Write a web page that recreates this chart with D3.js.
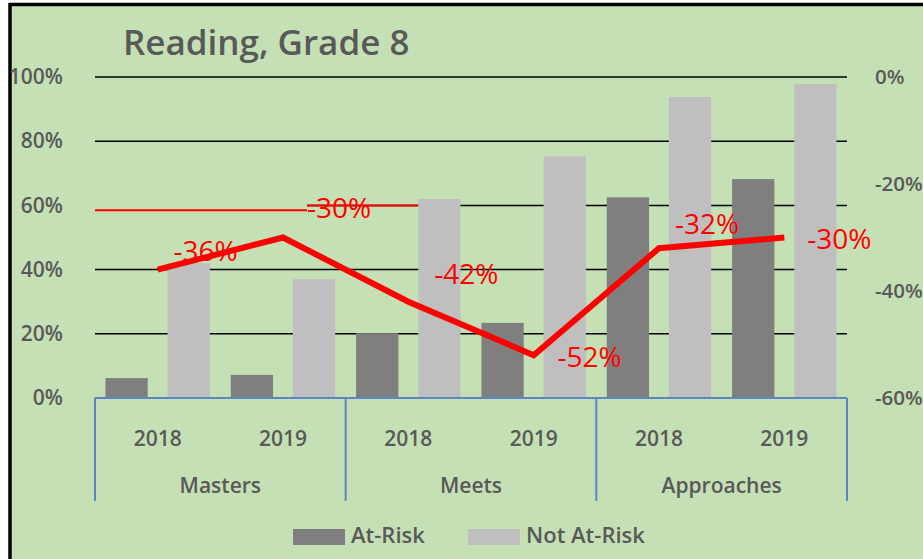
<!DOCTYPE html>
<html>
<head>
<meta charset="utf-8">
<script src="https://cdn.jsdelivr.net/npm/d3@7"></script>
<style>
  html, body { margin: 0; padding: 0; background: #fff; }
  svg { display: block; font-family: "Open Sans", "Noto Sans", sans-serif; }
</style>
</head>
<body>
<div id="chart"></div>
<script>
const groups = ["Masters", "Meets", "Approaches"];
const years = ["2018", "2019"];
const series = ["At-Risk", "Not At-Risk"];
const atRisk = [0.062, 0.072, 0.202, 0.234, 0.625, 0.682];
const notAtRisk = [0.42, 0.37, 0.62, 0.753, 0.938, 0.978];
const gap = [-0.36, -0.30, -0.42, -0.52, -0.32, -0.30];
const leftTicks = [0, 0.2, 0.4, 0.6, 0.8, 1];
const rightTicks = [0, -0.2, -0.4, -0.6];

// label nudges, like the hand-placed labels in the original
const labelNudge = [[48, -9], [56, -20], [58, -18], [56, 12], [48, -14], [55, 11]];

const W = 923, H = 559;
const plot = { left: 95, right: 847, top: 77, bottom: 398 };
const pct = d3.formatLocale({ decimal: ".", thousands: ",", grouping: [3], currency: ["", ""], minus: "-" }).format(".0%");

const rows = [];
groups.forEach((g, gi) => years.forEach((yr, yi) => {
  const i = gi * years.length + yi;
  rows.push({ group: g, year: yr, values: [atRisk[i], notAtRisk[i]], gap: gap[i] });
}));

const svg = d3.select("#chart").append("svg").attr("width", W).attr("height", H);

svg.append("rect")
  .attr("x", 10).attr("y", 4.5).attr("width", W + 10).attr("height", H + 10)
  .attr("fill", "#c5e0b4").attr("stroke", "#000").attr("stroke-width", 3.5);

svg.append("text")
  .attr("x", 123).attr("y", 55)
  .attr("font-size", 35).attr("font-weight", 600).attr("fill", "#595959")
  .text("Reading, Grade 8");

const x0 = d3.scaleBand().domain(groups).range([plot.left, plot.right]);
const x1 = d3.scaleBand().domain(years).range([0, x0.bandwidth()]);
const xs = d3.scaleBand().domain(series).range([0, x1.bandwidth()]).paddingInner(0.32).paddingOuter(0.168);
const yL = d3.scaleLinear().domain([0, 1]).range([plot.bottom, plot.top]);
const yR = d3.scaleLinear().domain([-0.6, 0]).range([plot.bottom, plot.top]);
const cx = d => x0(d.group) + x1(d.year) + x1.bandwidth() / 2;

// the -30% label's leader line runs over the 60% gridline on the left
const leaderEnd = x0("Masters") + x1("2019") + x1.bandwidth() / 2 + labelNudge[1][0] - 32;
const leaderStop = x0("Meets") + x1("2018") + xs("Not At-Risk");

// gridlines
svg.append("g").selectAll("line")
  .data(leftTicks.filter(t => t > 0))
  .join("line")
  .attr("x1", t => t === 0.6 ? leaderEnd : plot.left)
  .attr("x2", plot.right)
  .attr("y1", t => yL(t)).attr("y2", t => yL(t))
  .attr("stroke", "#000").attr("stroke-width", 1.5);

svg.append("g").attr("stroke", "#ff0000").attr("stroke-width", 2)
  .call(g => g.append("line").attr("x1", plot.left).attr("x2", leaderEnd)
    .attr("y1", yL(0.585)).attr("y2", yL(0.585)))
  .call(g => g.append("line").attr("x1", leaderEnd).attr("x2", leaderStop)
    .attr("y1", yL(0.6)).attr("y2", yL(0.6)));

// bars
const colors = d3.scaleOrdinal().domain(series).range(["#7f7f7f", "#bfbfbf"]);
svg.append("g").selectAll("g")
  .data(rows)
  .join("g")
  .attr("transform", d => `translate(${x0(d.group) + x1(d.year)},0)`)
  .selectAll("rect")
  .data(d => d.values.map((v, k) => ({ s: series[k], v })))
  .join("rect")
  .attr("x", d => xs(d.s))
  .attr("width", xs.bandwidth())
  .attr("y", d => yL(d.v))
  .attr("height", d => yL(0) - yL(d.v))
  .attr("fill", d => colors(d.s));

// axes
const tickStyle = size => g => {
  g.select(".domain").remove();
  g.selectAll(".tick line").remove();
  g.selectAll("text").attr("font-size", size).attr("font-weight", 600).attr("fill", "#595959")
    .attr("font-family", "Open Sans, Noto Sans, sans-serif");
};
svg.append("g").attr("transform", `translate(${plot.left},0)`)
  .call(d3.axisLeft(yL).tickValues(leftTicks).tickFormat(pct).tickPadding(26))
  .call(tickStyle(21));
svg.append("g").attr("transform", `translate(${plot.right},0)`)
  .call(d3.axisRight(yR).tickValues(rightTicks).tickFormat(pct).tickPadding(22))
  .call(tickStyle(20.5));

// category axis (two levels)
const axisColor = "#5b87c7";
svg.append("line")
  .attr("x1", plot.left).attr("x2", plot.right)
  .attr("y1", plot.bottom).attr("y2", plot.bottom)
  .attr("stroke", axisColor).attr("stroke-width", 2);
svg.append("g").selectAll("line")
  .data(groups.map(g => x0(g)).concat([plot.right]))
  .join("line")
  .attr("x1", d => d).attr("x2", d => d)
  .attr("y1", plot.bottom).attr("y2", 501)
  .attr("stroke", axisColor).attr("stroke-width", 2);
svg.append("g").selectAll("text")
  .data(rows)
  .join("text")
  .attr("x", cx).attr("y", 446)
  .attr("text-anchor", "middle")
  .attr("font-size", 21).attr("font-weight", 600).attr("fill", "#595959")
  .text(d => d.year);
svg.append("g").selectAll("text")
  .data(groups)
  .join("text")
  .attr("x", g => x0(g) + x0.bandwidth() / 2).attr("y", 493)
  .attr("text-anchor", "middle")
  .attr("font-size", 21).attr("font-weight", 600).attr("fill", "#595959")
  .text(g => g);

// gap line
svg.append("path")
  .datum(rows)
  .attr("d", d3.line().x(cx).y(d => yR(d.gap)))
  .attr("fill", "none").attr("stroke", "#ff0000").attr("stroke-width", 6)
  .attr("stroke-linejoin", "miter");

svg.append("g").selectAll("text")
  .data(rows)
  .join("text")
  .attr("x", (d, i) => cx(d) + labelNudge[i][0])
  .attr("y", (d, i) => yR(d.gap) + labelNudge[i][1])
  .attr("text-anchor", "middle")
  .attr("font-size", 28).attr("fill", "#ff0000")
  .text(d => pct(d.gap));

// legend
const legend = svg.append("g").selectAll("g")
  .data(series)
  .join("g")
  .attr("transform", (d, i) => `translate(${[293, 468][i]},529)`);
legend.append("rect").attr("width", 52).attr("height", 16).attr("fill", d => colors(d));
legend.append("text").attr("x", 58).attr("y", 14)
  .attr("font-size", 22).attr("font-weight", 600).attr("fill", "#595959")
  .text(d => d);
</script>
</body>
</html>
